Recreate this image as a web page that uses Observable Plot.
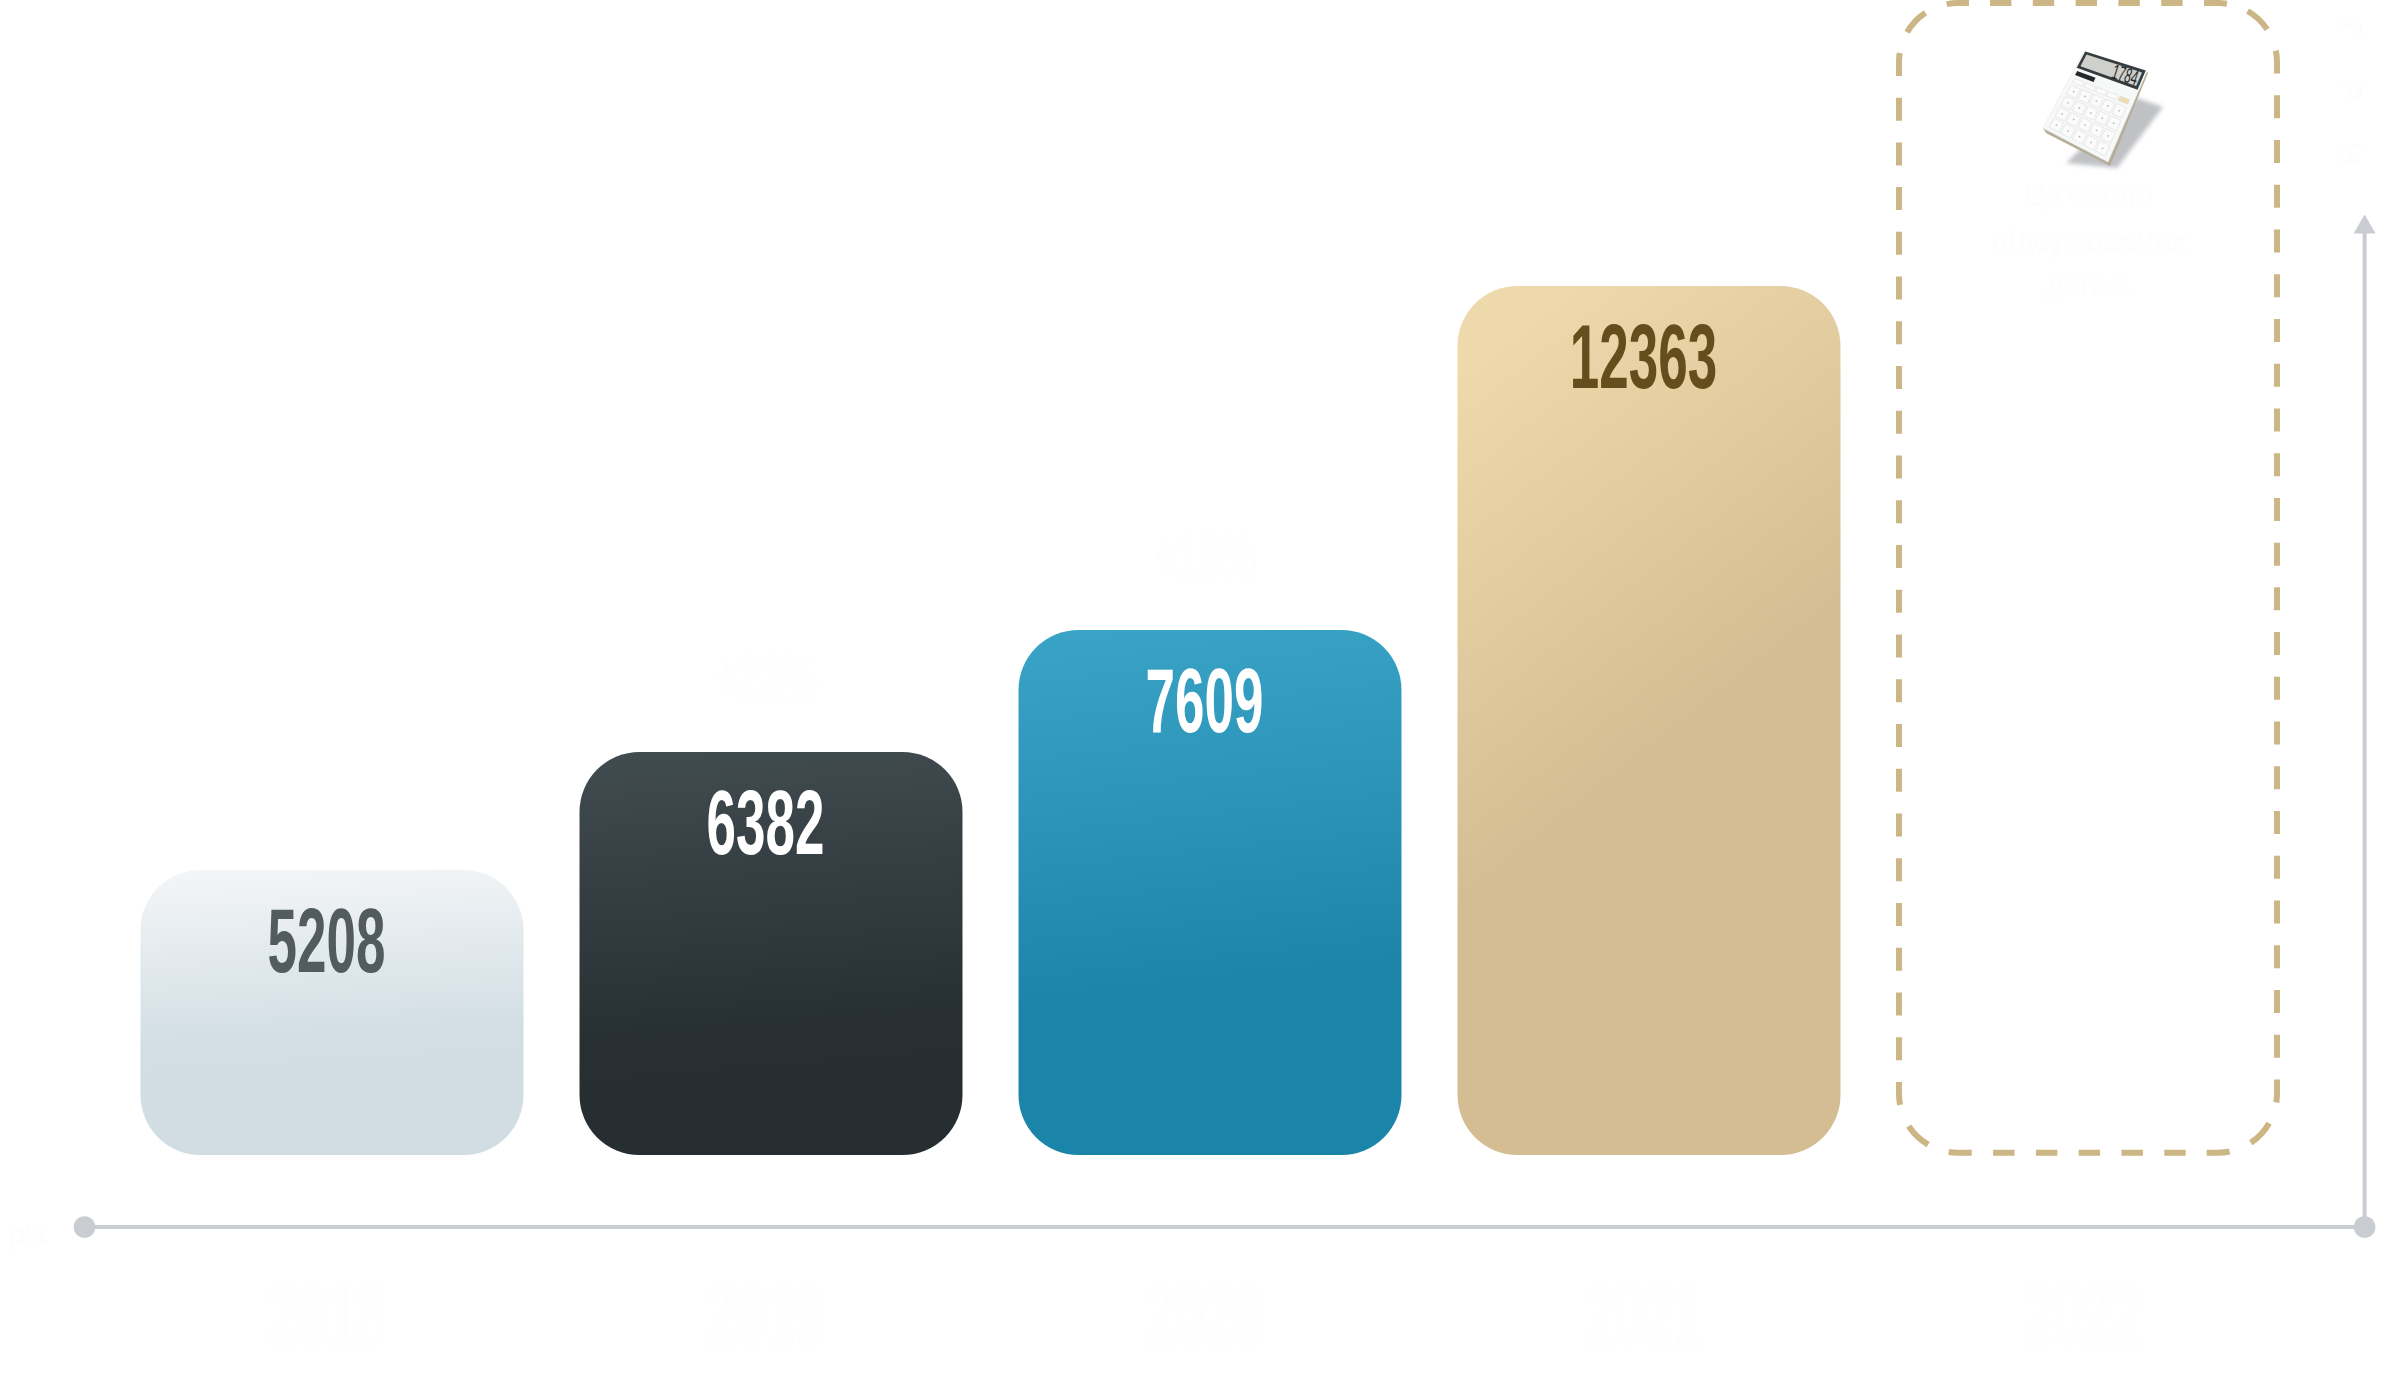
<!DOCTYPE html>
<html>
<head>
<meta charset="utf-8">
<script src="https://cdn.jsdelivr.net/npm/d3@7"></script>
<script src="https://cdn.jsdelivr.net/npm/@observablehq/plot@0.6"></script>
<style>
html,body{margin:0;padding:0;background:#fff}
svg{display:block}
</style>
</head>
<body>
<div id="chart"></div>
<script>
// ---- data ----
const years = [2018, 2019, 2020, 2021];
const values = [5208, 6382, 7609, 12363];
// the drawn bars are not proportional to their printed values: heights
const barLevels = [285, 403, 525, 869];
const forecastYear = 2022;
const forecastLevel = 1152;
const yearLabels = ["2018", "2019", "2020", "2021", "2022"];
const growthYears = [2019, 2020];
const growthLevels = [403, 525];
const growthLabels = ["+23%", "+19%"];
const noteLines = ["Це число", "підсумованих", "даних"];
const noteLevels = [959, 914.5, 870];
const xAxisTitle = "рік";
const yAxisTitle = "ГРН";
const labelColors = ["#525b5e", "#ffffff", "#ffffff", "#664d1e"];
const gradients = [
  {id: "g0", dir: [0, 0, 0.08, 1], stops: [[0, "#f4f6f8"], [0.62, "#d2dee4"], [1, "#d1dde3"]]},
  {id: "g1", dir: [0, 0, 0.08, 1], stops: [[0, "#414c51"], [0.72, "#272f32"], [1, "#262e31"]]},
  {id: "g2", dir: [0, 0, 0.08, 1], stops: [[0, "#3aa4c7"], [0.72, "#1c84a9"], [1, "#1b84a9"]]},
  {id: "g3", dir: [0, 0, 0.224, 0.641], stops: [[0, "#eed9ac"], [0.14, "#eed9ac"], [1, "#d4bd92"]]}
];

const axisLevel = -71.5;
const arrowLevel = 928.4;
const axisStart = 2017.435, axisEnd = 2022.629;
const halfBar = 0.4362, halfForecast = 0.4305;
const axisColor = "#c9cdd1", dashColor = "#cdb685";
const condensed = "'Liberation Sans Narrow','Liberation Sans',sans-serif";
const ghostFill = "#fefefe", ghostStroke = "#fbfbfb";

const table = years.map((year, i) => ({year, value: values[i], level: barLevels[i], fill: `url(#${gradients[i].id})`, color: labelColors[i]}));
const yearTable = yearLabels.map((label, i) => ({year: 2018 + i, label}));
const growthTable = growthLabels.map((label, i) => ({year: growthYears[i], level: growthLevels[i], label}));
const noteTable = noteLines.map((line, i) => ({line, level: noteLevels[i]}));

// dash rhythm of the forecast frame
const flat = [23, 21, ...Array(10).fill(21.4), 23];
const bend = [22, 27, 23];
const tall = Array.from({length: 47}, (_, i) => i % 2 ? 21.74 : 23);
const dashPattern = [...flat, ...bend, ...tall, ...bend, ...flat, ...bend, ...tall, ...bend].join(" ");

function defs() {
  const d = d3.create("svg:defs");
  for (const g of gradients) {
    const lg = d.append("linearGradient").attr("id", g.id)
      .attr("x1", g.dir[0]).attr("y1", g.dir[1]).attr("x2", g.dir[2]).attr("y2", g.dir[3]);
    for (const [o, c] of g.stops) lg.append("stop").attr("offset", o).attr("stop-color", c);
  }
  d.append("filter").attr("id", "soft").attr("x", "-20%").attr("y", "-20%").attr("width", "140%").attr("height", "140%")
    .append("feGaussianBlur").attr("stdDeviation", 2.2);
  return d.node();
}

// the calculator picture inside the forecast frame
function calculator() {
  const TL = [2084, 51], TR = [2147, 71], BR = [2108, 162], BL = [2043, 128];
  const P = (u, v) => [0, 1].map(k =>
    (1 - u) * (1 - v) * TL[k] + u * (1 - v) * TR[k] + u * v * BR[k] + (1 - u) * v * BL[k]);
  const quad = (u0, v0, u1, v1) => [P(u0, v0), P(u1, v0), P(u1, v1), P(u0, v1)].map(p => p.join(",")).join(" ");
  const g = d3.create("svg:g");
  g.append("polygon").attr("points", "2137,98 2163,107 2117,168 2066,163 2090,140")
    .attr("fill", "#bfc1c4").attr("filter", "url(#soft)");
  g.append("polygon").attr("points", [TR, BR, BL, [BL[0] + 3, BL[1] + 5], [BR[0] + 2, BR[1] + 4], [TR[0] + 1, TR[1] + 2]].map(p => p.join(",")).join(" "))
    .attr("fill", "#b5ad98");
  g.append("polygon").attr("points", quad(0, 0, 1, 1)).attr("fill", "#f7f8f8").attr("stroke", "#e6e8e8").attr("stroke-width", 0.6);
  g.append("polygon").attr("points", quad(0.02, 0.0, 0.98, 0.21)).attr("fill", "#363c3e");
  g.append("polygon").attr("points", quad(0.06, 0.03, 0.94, 0.18)).attr("fill", "#cfcfcb");
  g.append("polygon").attr("points", quad(0.05, 0.245, 0.34, 0.295)).attr("fill", "#24282a");
  const [tx, ty] = P(0.72, 0.105);
  g.append("text").attr("transform", `translate(${tx},${ty}) rotate(17.6)`).attr("text-anchor", "middle").attr("dy", "0.35em")
    .attr("font-family", condensed).attr("font-size", 21).attr("fill", "#22282a")
    .attr("textLength", 26).attr("lengthAdjust", "spacingAndGlyphs").text("1784");
  const cols = 5;
  for (let c = 0; c < cols; c++) {
    const u0 = 0.07 + c * 0.178, u1 = u0 + 0.15;
    g.append("polygon").attr("points", quad(u0, 0.335, u1, 0.385))
      .attr("fill", c === 4 ? "#f1dcae" : "#fbfbfb").attr("stroke", "#d9dbdb").attr("stroke-width", 0.6);
    for (let r = 0; r < 4; r++) {
      const v0 = 0.42 + r * 0.141, v1 = v0 + 0.116;
      g.append("polygon").attr("points", quad(u0, v0, u1, v1))
        .attr("fill", "#fbfbfb").attr("stroke", "#dadcdc").attr("stroke-width", 0.6);
      const [kx, ky] = P((u0 + u1) / 2, (v0 + v1) / 2);
      g.append("circle").attr("cx", kx).attr("cy", ky).attr("r", 0.9).attr("fill", "#b9bcbd");
    }
  }
  return g.node();
}

const ghost = {fill: ghostFill, stroke: ghostStroke, strokeWidth: 0.7};

const chart = Plot.plot({
  width: 2388, height: 1380,
  marginTop: 0, marginRight: 0, marginBottom: 0, marginLeft: 0,
  style: {background: "#fff", overflow: "visible"},
  x: {domain: [2018, 2022], range: [332, 2088], axis: null},
  y: {domain: [0, 1152], range: [1155, 3], axis: null},
  marks: [
    defs,
    Plot.rect(table, {
      x1: d => d.year - halfBar, x2: d => d.year + halfBar,
      y1: () => 0, y2: "level",
      fill: {value: "fill", scale: null}, rx: 60, ry: 60
    }),
    Plot.rect([forecastLevel], {
      x1: () => forecastYear - halfForecast, x2: () => forecastYear + halfForecast,
      y1: () => 0, y2: d => d, insetBottom: 2.3,
      fill: "none", stroke: dashColor, strokeWidth: 6, rx: 59, ry: 59,
      strokeDasharray: dashPattern, strokeDashoffset: 12
    }),
    calculator,
    Plot.text(table, {
      x: "year", y: "level", text: d => String(d.value), dx: -6, dy: 73,
      fill: "color", fontSize: 90, fontWeight: 700, fontFamily: condensed,
      className: "big-num"
    }),
    Plot.ruleY([axisLevel], {x1: axisStart, x2: axisEnd, stroke: axisColor, strokeWidth: 4}),
    Plot.ruleX([axisEnd], {y1: axisLevel, y2: arrowLevel, stroke: axisColor, strokeWidth: 4}),
    Plot.dot([[axisStart, axisLevel], [axisEnd, axisLevel]], {x: d => d[0], y: d => d[1], r: 10.8, fill: axisColor}),
    Plot.dot([[axisEnd, arrowLevel]], {x: d => d[0], y: d => d[1], r: 8.17, symbol: "triangle", fill: axisColor}),
    Plot.text(yearTable, {
      x: "year", y: () => axisLevel, text: "label", dx: -6, dy: 90,
      fontSize: 90, fontWeight: 700, fontFamily: condensed, ...ghost, className: "big-num"
    }),
    Plot.text(growthTable, {
      x: "year", y: "level", text: "label", dx: -5, dy: -73,
      fontSize: 65, fontWeight: 700, fontFamily: condensed, ...ghost, className: "growth"
    }),
    Plot.text(noteTable, {
      x: () => forecastYear, y: "level", text: "line",
      fontSize: 30, fontFamily: "Roboto, sans-serif", ...ghost
    }),
    Plot.text([xAxisTitle], {
      frameAnchor: "top-left", text: d => d, dx: 28, dy: 1224, textAnchor: "middle",
      fontSize: 28, fontFamily: "Roboto, sans-serif", ...ghost
    }),
    Plot.text([yAxisTitle], {
      frameAnchor: "top-left", text: d => d, dx: 2361, dy: 92, textAnchor: "middle", rotate: 90,
      fontSize: 30, fontFamily: "Roboto, sans-serif", ...ghost, className: "ytitle"
    })
  ]
});

// condensed numerals: squeeze the glyphs to the picture's narrow face
const squeeze = (sel, perChar) => d3.select(chart).selectAll(sel).each(function () {
  d3.select(this).attr("textLength", this.textContent.length * perChar).attr("lengthAdjust", "spacingAndGlyphs");
});
squeeze(".big-num text", 29.5);
squeeze(".growth text", 25.5);
d3.select(chart).selectAll(".ytitle text").attr("textLength", 143).attr("lengthAdjust", "spacing");
document.getElementById("chart").appendChild(chart);
</script>
</body>
</html>
